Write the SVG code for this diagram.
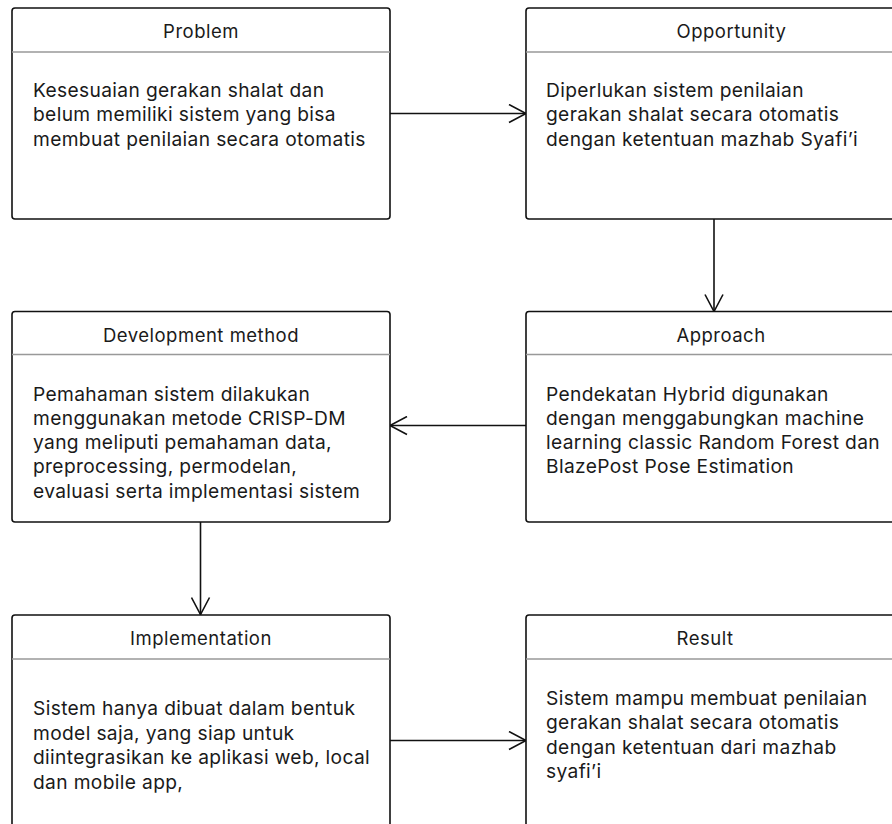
<svg xmlns="http://www.w3.org/2000/svg" width="892" height="824" viewBox="0 0 892 824">
<defs>
<style>
.box{fill:#fff;stroke:#111;stroke-width:1.6}
.div{stroke:#999;stroke-width:1.6}
.t{font-family:Inter,"Noto Sans",sans-serif;font-size:19.2px;letter-spacing:0.35px;fill:#1a1a1a}
.h{text-anchor:middle;font-size:18.5px;letter-spacing:0.5px}
.c{stroke:#111;stroke-width:1.6;fill:none}
</style>
<marker id="ah" viewBox="0 0 20 20" refX="18" refY="10" markerWidth="20" markerHeight="20" markerUnits="userSpaceOnUse" orient="auto">
<path d="M1,1 L18,10 L1,19" fill="none" stroke="#111" stroke-width="1.6"/>
</marker>
</defs>
<rect width="892" height="824" fill="#fff"/>
<g id="connectors">
<line class="c" x1="390" y1="113.5" x2="526" y2="113.5" marker-end="url(#ah)"/>
<line class="c" x1="714" y1="219" x2="714" y2="311.5" marker-end="url(#ah)"/>
<line class="c" x1="526" y1="425.5" x2="390" y2="425.5" marker-end="url(#ah)"/>
<line class="c" x1="200.5" y1="522" x2="200.5" y2="614.5" marker-end="url(#ah)"/>
<line class="c" x1="390" y1="740.5" x2="526" y2="740.5" marker-end="url(#ah)"/>
</g>
<g id="problem">
<rect class="box" x="12" y="8" width="378" height="211" rx="3"/>
<line class="div" x1="12" y1="52" x2="390" y2="52"/>
<text class="t h" x="201" y="37.5">Problem</text>
<text class="t" x="33"><tspan x="33" y="97">Kesesuaian gerakan shalat dan</tspan><tspan x="33" y="121.3">belum memiliki sistem yang bisa</tspan><tspan x="33" y="145.6">membuat penilaian secara otomatis</tspan></text>
</g>
<g id="opportunity">
<rect class="box" x="526" y="8" width="411" height="211" rx="3"/>
<line class="div" x1="526" y1="52" x2="937" y2="52"/>
<text class="t h" x="731.5" y="37.5">Opportunity</text>
<text class="t" x="546"><tspan x="546" y="97">Diperlukan sistem penilaian</tspan><tspan x="546" y="121.3">gerakan shalat secara otomatis</tspan><tspan x="546" y="145.6">dengan ketentuan mazhab Syafi’i</tspan></text>
</g>
<g id="development-method">
<rect class="box" x="12" y="311.5" width="378" height="210.5" rx="3"/>
<line class="div" x1="12" y1="354.5" x2="390" y2="354.5"/>
<text class="t h" x="201" y="341.5">Development method</text>
<text class="t" x="33"><tspan x="33" y="400.5">Pemahaman sistem dilakukan</tspan><tspan x="33" y="424.8">menggunakan metode CRISP-DM</tspan><tspan x="33" y="449.1">yang meliputi pemahaman data,</tspan><tspan x="33" y="473.4">preprocessing, permodelan,</tspan><tspan x="33" y="497.7">evaluasi serta implementasi sistem</tspan></text>
</g>
<g id="approach">
<rect class="box" x="526" y="311.5" width="411" height="210.5" rx="3"/>
<line class="div" x1="526" y1="354.5" x2="937" y2="354.5"/>
<text class="t h" x="721" y="341.5">Approach</text>
<text class="t" x="546"><tspan x="546" y="400.5">Pendekatan Hybrid digunakan</tspan><tspan x="546" y="424.8">dengan menggabungkan machine</tspan><tspan x="546" y="449.1">learning classic Random Forest dan</tspan><tspan x="546" y="473.4">BlazePost Pose Estimation</tspan></text>
</g>
<g id="implementation">
<rect class="box" x="12" y="615" width="378" height="230" rx="3"/>
<line class="div" x1="12" y1="659" x2="390" y2="659"/>
<text class="t h" x="201" y="645">Implementation</text>
<text class="t" x="33"><tspan x="33" y="715">Sistem hanya dibuat dalam bentuk</tspan><tspan x="33" y="739.5">model saja, yang siap untuk</tspan><tspan x="33" y="764">diintegrasikan ke aplikasi web, local</tspan><tspan x="33" y="788.5">dan mobile app,</tspan></text>
</g>
<g id="result">
<rect class="box" x="526" y="615" width="411" height="230" rx="3"/>
<line class="div" x1="526" y1="659" x2="937" y2="659"/>
<text class="t h" x="705" y="645">Result</text>
<text class="t" x="546"><tspan x="546" y="705">Sistem mampu membuat penilaian</tspan><tspan x="546" y="729.3">gerakan shalat secara otomatis</tspan><tspan x="546" y="753.6">dengan ketentuan dari mazhab</tspan><tspan x="546" y="777.9">syafi’i</tspan></text>
</g>
</svg>
